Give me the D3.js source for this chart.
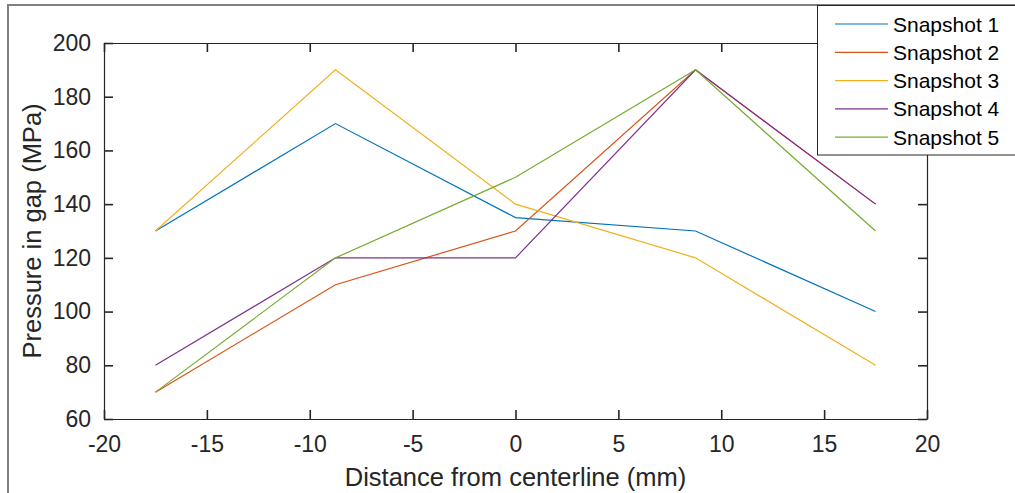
<!DOCTYPE html>
<html>
<head>
<meta charset="utf-8">
<script src="https://cdn.jsdelivr.net/npm/d3@7"></script>
<style>
  body { margin: 0; background: #fff; }
  svg { display: block; font-family: "Liberation Sans", Arial, sans-serif; }
</style>
</head>
<body>
<div id="chart"></div>
<script>
// distance from centerline (mm)
const distances = [-17.5, -8.75, 0, 8.75, 17.5];
const seriesNames = ["Snapshot 1", "Snapshot 2", "Snapshot 3", "Snapshot 4", "Snapshot 5"];
const snapshot1 = [130, 170, 135, 130, 100];
const snapshot2 = [70, 110, 130, 190, 140];
const snapshot3 = [130, 190, 140, 120, 80];
const snapshot4 = [80, 120, 120, 190, 140];
const snapshot5 = [70, 120, 150, 190, 130];
const colors = ["#0072BD", "#D95319", "#EDB120", "#7E2F8E", "#77AC30"];
const xTicks = [-20, -15, -10, -5, 0, 5, 10, 15, 20];
const yTicks = [60, 80, 100, 120, 140, 160, 180, 200];

const width = 1015, height = 493;
const plot = { left: 104, right: 927, top: 43, bottom: 419 };
const axisColor = "#262626";

const svg = d3.select("#chart").append("svg")
    .attr("width", width)
    .attr("height", height);

// figure frame
svg.append("rect")
    .attr("x", 8).attr("y", 5)
    .attr("width", width + 20).attr("height", height + 20)
    .attr("fill", "none")
    .attr("stroke", "#808080")
    .attr("stroke-width", 2);

const x = d3.scaleLinear().domain([-20, 20]).range([plot.left, plot.right]);
const y = d3.scaleLinear().domain([60, 200]).range([plot.bottom, plot.top]);

// lines
const series = [snapshot1, snapshot2, snapshot3, snapshot4, snapshot5];
const line = d3.line()
    .x((d, i) => x(distances[i]))
    .y(d => y(d));

svg.append("g")
    .selectAll("path")
    .data(series)
    .enter()
    .append("path")
    .attr("d", d => line(d))
    .attr("fill", "none")
    .attr("stroke", (d, i) => colors[i])
    .attr("stroke-width", 1.2);

// axes, ticks on all four sides (box on)
const tickLen = 9;
const plain = d => String(d);
const axisStyle = g => {
    g.select(".domain").attr("stroke", axisColor).attr("stroke-width", 1.2);
    g.selectAll(".tick line").attr("stroke", axisColor).attr("stroke-width", 1.6);
    g.selectAll(".tick text").attr("fill", axisColor).attr("font-size", "23px");
};

svg.append("g")
    .attr("transform", `translate(0,${plot.bottom})`)
    .call(d3.axisBottom(x).tickValues(xTicks).tickFormat(plain).tickSizeInner(-tickLen).tickSizeOuter(0).tickPadding(17))
    .call(axisStyle);

svg.append("g")
    .attr("transform", `translate(0,${plot.top})`)
    .call(d3.axisTop(x).tickValues(xTicks).tickSizeInner(-tickLen).tickSizeOuter(0).tickFormat(""))
    .call(axisStyle);

svg.append("g")
    .attr("transform", `translate(${plot.left},0)`)
    .call(d3.axisLeft(y).tickValues(yTicks).tickFormat(plain).tickSizeInner(-tickLen).tickSizeOuter(0).tickPadding(13))
    .call(axisStyle);

svg.append("g")
    .attr("transform", `translate(${plot.right},0)`)
    .call(d3.axisRight(y).tickValues(yTicks).tickSizeInner(-tickLen).tickSizeOuter(0).tickFormat(""))
    .call(axisStyle);

// axis labels
svg.append("text")
    .attr("x", (plot.left + plot.right) / 2)
    .attr("y", 486)
    .attr("text-anchor", "middle")
    .attr("font-size", "25.5px")
    .attr("fill", axisColor)
    .text("Distance from centerline (mm)");

svg.append("text")
    .attr("transform", `translate(41,${(plot.top + plot.bottom) / 2}) rotate(-90)`)
    .attr("text-anchor", "middle")
    .attr("font-size", "25.5px")
    .attr("fill", axisColor)
    .text("Pressure in gap (MPa)");

// legend
const legend = svg.append("g");
legend.append("rect")
    .attr("x", 817.5).attr("y", 5.5)
    .attr("width", 210).attr("height", 149.5)
    .attr("fill", "#fff")
    .attr("stroke", axisColor)
    .attr("stroke-width", 1);

const rows = legend.selectAll("g.row")
    .data(seriesNames)
    .enter()
    .append("g")
    .attr("class", "row")
    .attr("transform", (d, i) => `translate(0,${24 + i * 28.3})`);

rows.append("line")
    .attr("x1", 835).attr("x2", 888)
    .attr("stroke", (d, i) => colors[i])
    .attr("stroke-width", 1.2);

rows.append("text")
    .attr("x", 893)
    .attr("y", 7.5)
    .attr("font-size", "21px")
    .attr("fill", "#000")
    .text(d => d);
</script>
</body>
</html>
